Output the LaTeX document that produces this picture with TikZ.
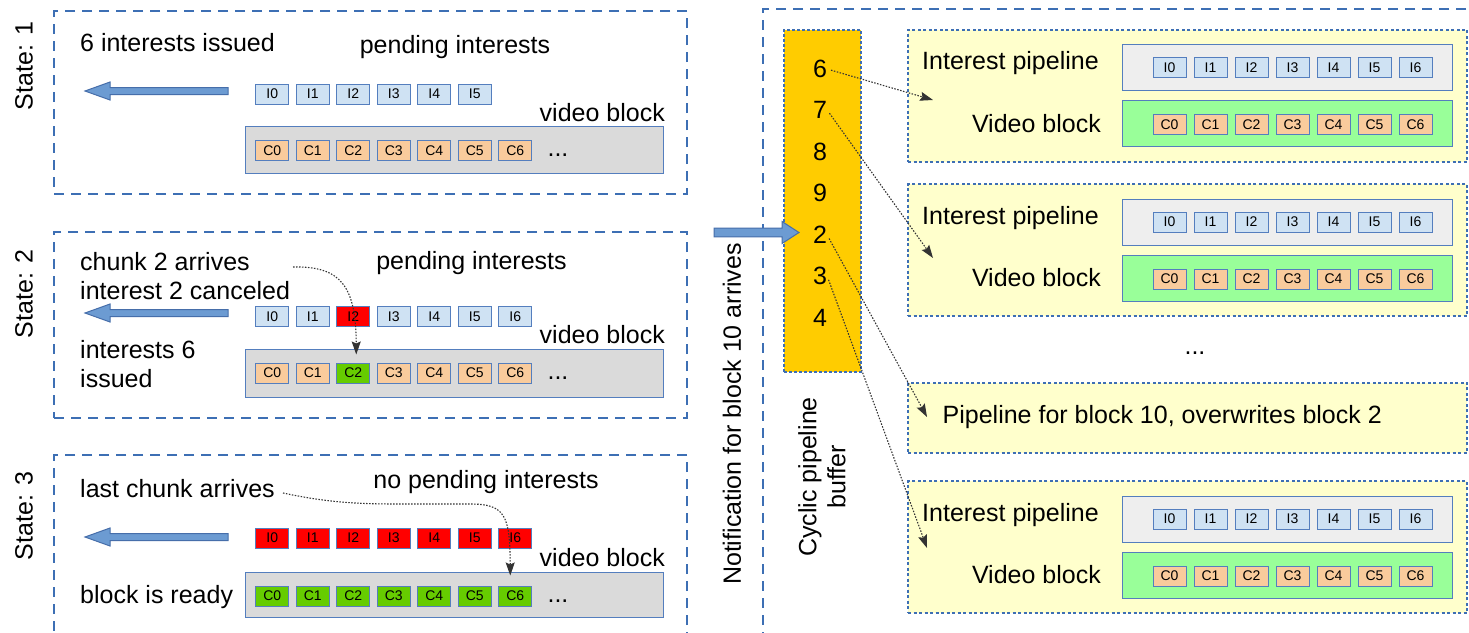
\documentclass[tikz,border=0pt]{standalone}
\usepackage{fontspec}
\setmainfont{Liberation Sans}
\usetikzlibrary{arrows.meta}

\newcommand\lblfont{\fontsize{25}{29}\selectfont}
\newcommand\cellfnt{\fontsize{14}{14}\selectfont}

\definecolor{frameblue}{RGB}{61,111,180}
\definecolor{cellline}{RGB}{84,126,190}
\definecolor{ifill}{RGB}{207,226,243}
\definecolor{cfill}{RGB}{249,203,156}
\definecolor{redfill}{RGB}{255,0,0}
\definecolor{greenfill}{RGB}{102,204,0}
\definecolor{greyleft}{RGB}{218,218,218}
\definecolor{greyright}{RGB}{238,238,238}
\definecolor{lightgreen}{RGB}{153,255,153}
\definecolor{paleyellow}{RGB}{255,255,204}
\definecolor{gold}{RGB}{255,204,0}
\definecolor{arrowfill}{RGB}{108,155,210}
\definecolor{arrowline}{RGB}{70,110,170}

\tikzset{
  lbl/.style={inner sep=0pt, font=\lblfont},
  cell/.style={draw=cellline, line width=1pt, minimum width=33pt, minimum height=20pt,
               inner sep=0pt, font=\cellfnt},
  icell/.style={cell, fill=ifill},
  ccell/.style={cell, fill=cfill},
  rcell/.style={cell, fill=redfill},
  gcell/.style={cell, fill=greenfill},
  panel/.style={draw=frameblue, line width=2.2pt, dash pattern=on 10pt off 7pt,
                anchor=north west, inner sep=0pt},
  holder/.style={draw=frameblue, line width=2.4pt, dash pattern=on 3pt off 2.5pt,
                 fill=paleyellow, anchor=north west, inner sep=0pt},
  bar/.style={draw=cellline, line width=1.2pt, anchor=north west, inner sep=0pt},
  link/.style={line width=1.1pt, black!80, dash pattern=on 1.5pt off 1.5pt,
               -{Stealth[length=13pt,width=9pt,inset=2pt]}},
  pics/fatarrow/.style n args={4}{code={
    \draw[arrowline, fill=arrowfill, line width=1pt]
      (0,0) -- (#4,-#3) -- (#4,-#2) -- (#1,-#2) -- (#1,#2) -- (#4,#2) -- (#4,#3) -- cycle;
  }}
}

\begin{document}
\begin{tikzpicture}[x=1pt,y=-1pt]
\useasboundingbox (0,0) rectangle (1469,632);
\fill[white] (0,0) rectangle (1469,632);
\clip (0,0) rectangle (1469,632);

% ---------------- state panels on the left ----------------
\node[panel, minimum width=633pt, minimum height=183pt] (st1) at (53,10) {};
\node[panel, minimum width=633pt, minimum height=186pt] (st2) at (53,231) {};
\node[panel, minimum width=633pt, minimum height=200pt] (st3) at (53,454) {};

\node[lbl, rotate=90] (st1lbl) at (24,66) {State: 1};
\node[lbl, rotate=90] (st2lbl) at (24,294) {State: 2};
\node[lbl, rotate=90] (st3lbl) at (24,516) {State: 3};

% outgoing interest arrows
\pic at (85,91) {fatarrow={143}{3.5}{9}{25}};
\pic at (85,313) {fatarrow={143}{3.5}{9}{25}};
\pic at (85,537) {fatarrow={143}{3.5}{9}{25}};

% state 1
\node[lbl, anchor=west] (s1issued) at (80,43) {6 interests issued};
\node[lbl] (s1pend) at (455,47) {pending interests};
\node[lbl, anchor=east] (s1vb) at (665,113) {video block};
\node[bar, fill=greyleft, minimum width=418pt, minimum height=47pt] (s1blk) at (244.6,126) {};
\foreach \k in {0,...,5} \node[icell] (s1i\k) at ({272.3+40.5*\k},94) {I\k};
\foreach \k in {0,...,6} \node[ccell] (s1c\k) at ({272.3+40.5*\k},150.5) {C\k};
\node[lbl] (s1dots) at (558,155) {...};

% state 2
\node[lbl, anchor=west, align=left] (s2chunk) at (80,276) {chunk 2 arrives\\interest 2 canceled};
\node[lbl, anchor=west, align=left] (s2issued) at (80,364) {interests 6\\issued};
\node[lbl] (s2pend) at (471.5,263) {pending interests};
\node[lbl, anchor=east] (s2vb) at (665,335) {video block};
\node[bar, fill=greyleft, minimum width=418pt, minimum height=47.5pt] (s2blk) at (244.6,349) {};
\foreach \k/\s in {0/icell,1/icell,2/rcell,3/icell,4/icell,5/icell,6/icell}
  \node[\s] (s2i\k) at ({272.3+40.5*\k},316.7) {I\k};
\foreach \k/\s in {0/ccell,1/ccell,2/gcell,3/ccell,4/ccell,5/ccell,6/ccell}
  \node[\s] (s2c\k) at ({272.3+40.5*\k},373) {C\k};
\node[lbl] (s2dots) at (558,378) {...};

% state 3
\node[lbl, anchor=west] (s3last) at (80,489) {last chunk arrives};
\node[lbl] (s3pend) at (486,482) {no pending interests};
\node[lbl, anchor=east] (s3vb) at (665,558) {video block};
\node[lbl, anchor=west] (s3ready) at (80,597) {block is ready};
\node[bar, fill=greyleft, minimum width=418pt, minimum height=45pt] (s3blk) at (244.6,572) {};
\foreach \k in {0,...,6} \node[rcell] (s3i\k) at ({272.3+40.5*\k},538) {I\k};
\foreach \k in {0,...,6} \node[gcell] (s3c\k) at ({272.3+40.5*\k},596) {C\k};
\node[lbl] (s3dots) at (558,601) {...};

% ---------------- pipeline buffer ----------------
\node[panel, minimum width=720pt, minimum height=640pt] (pipes) at (762,8) {};
\node[lbl, rotate=90] (notify) at (732,414) {Notification for block 10 arrives};
\node[draw=frameblue, line width=2pt, dash pattern=on 3pt off 2pt, fill=gold,
      minimum width=77pt, minimum height=342pt, anchor=north west, inner sep=0pt]
      (buf) at (783,29) {};
\pic[rotate=180] at (799,232.5) {fatarrow={85}{4.3}{11}{17}};
\foreach \n/\y in {6/69,7/110,8/152,9/193,2/235,3/276,4/318}
  \node[lbl] (b\n) at (820,\y) {\n};
\node[lbl, rotate=90, align=center] (buflbl) at (822,477) {Cyclic pipeline\\buffer};

% ---------------- pipelines on the right ----------------
\foreach \t/\n in {28.5/1,183/2,480/4} {
  \node[holder, minimum width=559pt, minimum height=132pt] (r\n) at (907,\t) {};
  \node[bar, fill=greyright, minimum width=330pt, minimum height=46pt] (r\n ip) at (1122,{\t+15.5}) {};
  \node[bar, fill=lightgreen, minimum width=330pt, minimum height=46pt] (r\n vb) at (1122,{\t+71.5}) {};
  \node[lbl, anchor=west] (r\n iplbl) at (922,{\t+35}) {Interest pipeline};
  \node[lbl, anchor=east] (r\n vblbl) at (1101,{\t+95}) {Video block};
  \foreach \k in {0,...,6} {
    \node[icell] (r\n i\k) at ({1169.5+41*\k},{\t+39}) {I\k};
    \node[ccell] (r\n c\k) at ({1169.5+41*\k},{\t+96}) {C\k};
  }
}
\node[lbl] (moredots) at (1195,353) {...};
\node[holder, minimum width=559pt, minimum height=70pt] (r3) at (907,381.7) {};
\node[lbl, anchor=west] (r3lbl) at (942.5,417) {Pipeline for block 10, overwrites block 2};

% ---------------- dotted links ----------------
\coordinate (t1) at (933,100);
\coordinate (t2) at (933,258);
\coordinate (t3) at (927,417);
\coordinate (t4) at (927,548);
\draw[link, shorten <=4pt] (b6.east) -- (t1);
\draw[link, shorten <=4pt] (b7.east) -- (t2);
\draw[link, shorten <=4pt] (b2.east) -- (t3);
\draw[link, shorten <=4pt] (b3.east) -- (t4);

\coordinate (s2from) at (293,267);
\draw[link, shorten >=8pt] (s2from) .. controls (340,266) and (356,285) .. ([xshift=3pt]s2c2.north);
\coordinate (s3from) at (283,493);
\draw[link, shorten >=10pt] (s3from) .. controls (330,503) and (360,504) .. (400,504)
  -- (470,504) .. controls (505,504) and (510,515) .. ([xshift=-5pt]s3c6.north);
\end{tikzpicture}
\end{document}
